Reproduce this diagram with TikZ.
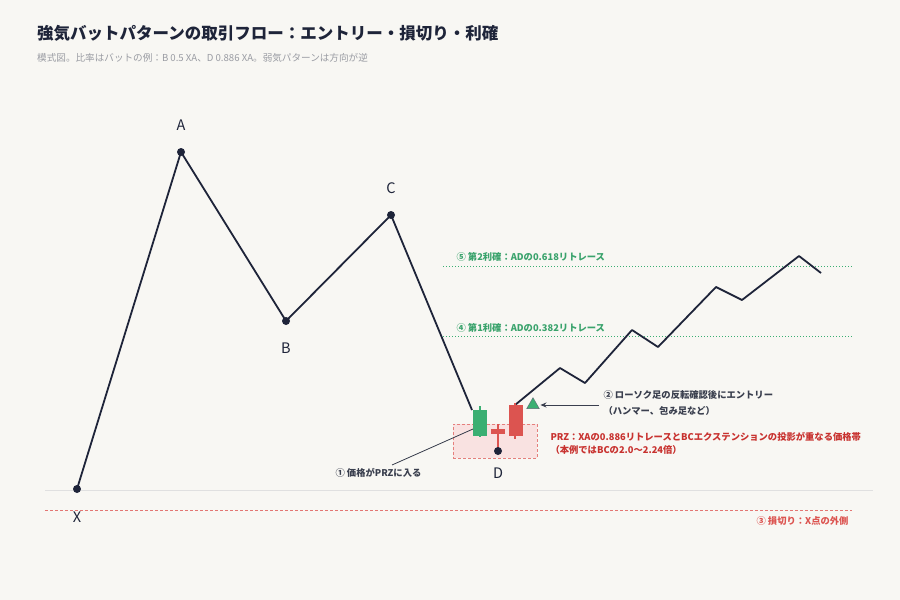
\documentclass[tikz,border=0pt]{standalone}
\usepackage{fontspec}
\setmainfont{Noto Sans CJK JP}
\usetikzlibrary{arrows.meta,shapes.geometric}
\definecolor{bgc}{HTML}{F8F7F3}
\definecolor{ink}{HTML}{1E2439}
\definecolor{sub}{HTML}{9A9CA3}
\definecolor{grn}{HTML}{3BAF72}
\definecolor{gtxt}{HTML}{3AA36C}
\definecolor{rd}{HTML}{DC5450}
\definecolor{rtxt}{HTML}{C8322F}
\definecolor{lbl}{HTML}{3A3F4E}
\tikzset{
  pt/.style={circle,fill=ink,inner sep=0pt,minimum size=8pt},
  ptlabel/.style={font=\fontsize{14.5}{16}\selectfont,text=ink},
  price/.style={draw=ink,line width=1.8pt,line join=round},
  tpline/.style={draw=grn,line width=1pt,dotted},
  gnote/.style={font=\bfseries\fontsize{9.3}{11}\selectfont,text=gtxt,anchor=base west},
  rnote/.style={font=\bfseries\fontsize{9.3}{11}\selectfont,text=rtxt,anchor=base west},
  note/.style={font=\bfseries\fontsize{9.3}{11}\selectfont,text=lbl,anchor=base west},
}
\begin{document}
\begin{tikzpicture}[x=1pt,y=-1pt]
\fill[bgc] (0,0) rectangle (900,600);
\useasboundingbox (0,0) rectangle (900,600);
% title
\node[anchor=base west,inner sep=0pt,font=\bfseries\fontsize{16.5}{19}\selectfont,text=ink] (title) at (37,39) {強気バットパターンの取引フロー：エントリー・損切り・利確};
\node[anchor=base west,inner sep=0pt,font=\fontsize{9.6}{11}\selectfont,text=sub] (subt) at (37,61) {模式図。比率はバットの例：B 0.5 XA、D 0.886 XA。弱気パターンは方向が逆};
% baseline gray
\coordinate (gl1) at (45,490); \coordinate (gl2) at (873,490);
\draw[draw=black!12,line width=0.8pt] (gl1) -- (gl2);
% stop loss
\coordinate (sl1) at (45,510); \coordinate (sl2) at (852,510);
\draw[draw=rd!80,line width=1pt,dash pattern=on 3pt off 2pt] (sl1) -- (sl2);
\node[rnote,anchor=base east,text=rd] (sltxt) at (852,524) {③ 損切り：X点の外側};
% TP lines
\coordinate (t2a) at (443,266); \coordinate (t2b) at (852,266);
\coordinate (t1a) at (443,336); \coordinate (t1b) at (852,336);
\draw[tpline] (t2a) -- (t2b);
\draw[tpline] (t1a) -- (t1b);
\node[gnote] (tp2) at (453,260) {⑤ 第2利確：ADの0.618リトレース};
\node[gnote] (tp1) at (453,331) {④ 第1利確：ADの0.382リトレース};
% PRZ box
\node[draw=rd!75,fill=rd!17,dash pattern=on 3pt off 2pt,line width=0.8pt,minimum width=84pt,minimum height=34pt,inner sep=0pt] (prz) at (495,441) {};
% points
\node[pt] (X) at (77,489) {};
\node[pt] (A) at (181,152) {};
\node[pt] (B) at (286,321) {};
\node[pt] (C) at (391,215) {};
\coordinate (Dend) at (472,410);
% price path
\draw[price] (X.center) -- (A.center) -- (B.center) -- (C.center) -- (Dend);
\coordinate (E0) at (515,405);
\draw[price] (E0) -- (560,368) -- (585,383) -- (632,330) -- (658,347) -- (716,287) -- (742,300) -- (799,256) -- (821,273);
% candles
\draw[grn,line width=1.2pt] (480,406) -- (480,437);
\node[fill=grn,minimum width=14.5pt,minimum height=25.5pt,inner sep=0pt] (c1) at (480,423) {};
\draw[rd,line width=1.2pt] (498,424) -- (498,451);
\node[fill=rd,minimum width=14pt,minimum height=5.5pt,inner sep=0pt] (c2) at (498,431.5) {};
\draw[rd,line width=1.2pt] (515,403) -- (515,439);
\node[fill=rd,minimum width=14pt,minimum height=30.5pt,inner sep=0pt] (c3) at (515.5,420.5) {};
\node[pt] (D) at (498,451) {};
% point labels
\node[ptlabel] (lA) at (181,125) {A};
\node[ptlabel] (lB) at (286,348) {B};
\node[ptlabel] (lC) at (391,188) {C};
\node[ptlabel] (lD) at (498,473) {D};
\node[ptlabel] (lX) at (77,517) {X};
% entry triangle
\node[draw=ink!70,fill=grn,isosceles triangle,isosceles triangle apex angle=60,shape border rotate=90,minimum height=11pt,inner sep=0pt,line width=0.4pt] (tri) at (533,405) {};
\coordinate (arrS) at (599,405);
\draw[draw=lbl,line width=0.9pt,-{Stealth[length=6pt,width=5pt]}] (arrS) -- ([xshift=3pt]tri.east);
\node[note] (n2a) at (600,398) {② ローソク足の反転確認後にエントリー};
\node[note] (n2b) at (600,414) {（ハンマー、包み足など）};
% PRZ text
\node[rnote] (p1) at (547,440) {PRZ：XAの0.886リトレースとBCエクステンションの投影が重なる価格帯};
\node[rnote] (p2) at (547,453) {（本例ではBCの2.0〜2.24倍）};
% entry into PRZ
\node[note] (n1) at (332,476) {① 価格がPRZに入る};
\draw[draw=lbl,line width=0.8pt] (473,429) -- (392,465);
\end{tikzpicture}
\end{document}
